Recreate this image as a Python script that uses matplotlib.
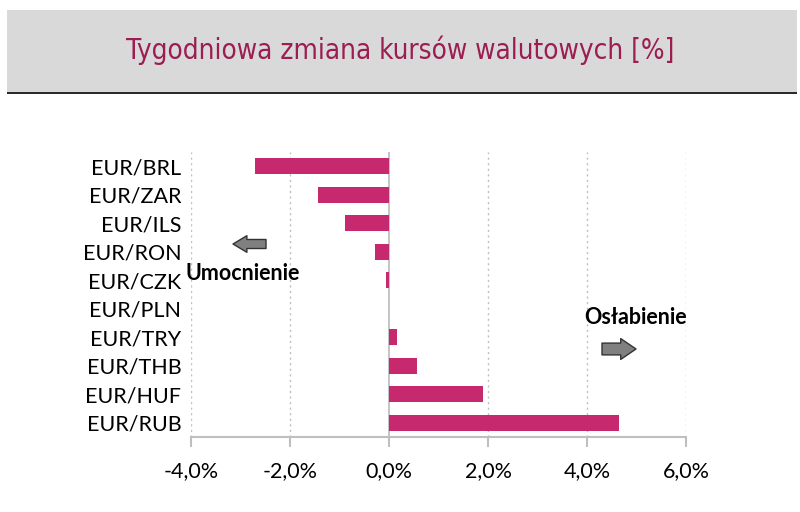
import matplotlib
matplotlib.use('Agg')
import matplotlib.pyplot as plt
from matplotlib.patches import Rectangle
from matplotlib.ticker import FuncFormatter

pairs = ['EUR/BRL', 'EUR/ZAR', 'EUR/ILS', 'EUR/RON', 'EUR/CZK',
         'EUR/PLN', 'EUR/TRY', 'EUR/THB', 'EUR/HUF', 'EUR/RUB']
changes = [-2.71, -1.43, -0.89, -0.28, -0.06, 0.0, 0.16, 0.57, 1.90, 4.65]
x_ticks = [-4, -2, 0, 2, 4, 6]

bar_color = '#C7296F'
title_color = '#9B1D51'
grid_color = '#BFBFBF'

plt.rcParams['font.family'] = ['Lato', 'DejaVu Sans']

fig = plt.figure(figsize=(8, 5.12), dpi=100)

# title band
fig.patches.append(Rectangle((7/800, (512-92)/512), 790/800, 82/512,
                             transform=fig.transFigure, facecolor='#D9D9D9',
                             edgecolor='none', zorder=0))
fig.patches.append(Rectangle((7/800, (512-94)/512), 790/800, 2.5/512,
                             transform=fig.transFigure, facecolor='#2B2B2B',
                             edgecolor='none', zorder=1))
fig.text(0.5, (512-50)/512, 'Tygodniowa zmiana kursów walutowych [%]',
         ha='center', va='center', fontsize=20, color=title_color,
         family=['DejaVu Sans'], fontstretch='condensed')

ax = fig.add_axes([191/800, (512-437)/512, 495/800, 285/512])
y = list(range(len(pairs)))
ax.barh(y, changes, height=0.56, color=bar_color, zorder=3)
ax.set_ylim(len(pairs) - 0.5, -0.5)
ax.set_yticks(y)
ax.set_yticklabels(pairs)
ax.set_xlim(-4, 6)
ax.set_xticks(x_ticks)
ax.xaxis.set_major_formatter(FuncFormatter(lambda v, p: ('%.1f%%' % v).replace('.', ',')))

for v in x_ticks:
    if v != 0:
        ax.axvline(v, color=grid_color, linestyle=(0, (1.5, 2.5)), linewidth=1, zorder=1)
ax.axvline(0, color=grid_color, linewidth=1.3, zorder=2)

for s in ['top', 'right', 'left']:
    ax.spines[s].set_visible(False)
ax.spines['bottom'].set_color(grid_color)
ax.spines['bottom'].set_linewidth(1.5)
ax.tick_params(axis='x', colors=grid_color, length=7, width=1.5, labelsize=15.5,
               labelcolor='black', pad=10)
ax.tick_params(axis='y', length=0, labelsize=15.5, pad=7)

# annotations
fig.text(243/800, (512-273)/512, 'Umocnienie', ha='center', va='center',
         fontsize=15.5, fontweight='bold')
fig.text(636/800, (512-318)/512, 'Osłabienie', ha='center', va='center',
         fontsize=15.5, fontweight='bold')
ax.annotate('', xy=(233, 512-244), xytext=(266, 512-244),
            xycoords='figure pixels', textcoords='figure pixels',
            arrowprops=dict(arrowstyle='simple,head_width=12,head_length=10,tail_width=6.5',
                            mutation_scale=1, fc='#808080', ec='#333333', lw=1,
                            shrinkA=0, shrinkB=0))
ax.annotate('', xy=(636, 512-349), xytext=(602, 512-349),
            xycoords='figure pixels', textcoords='figure pixels',
            arrowprops=dict(arrowstyle='simple,head_width=15,head_length=11,tail_width=8.5',
                            mutation_scale=1, fc='#808080', ec='#333333', lw=1,
                            shrinkA=0, shrinkB=0))

fig.savefig('out.png', dpi=100)
